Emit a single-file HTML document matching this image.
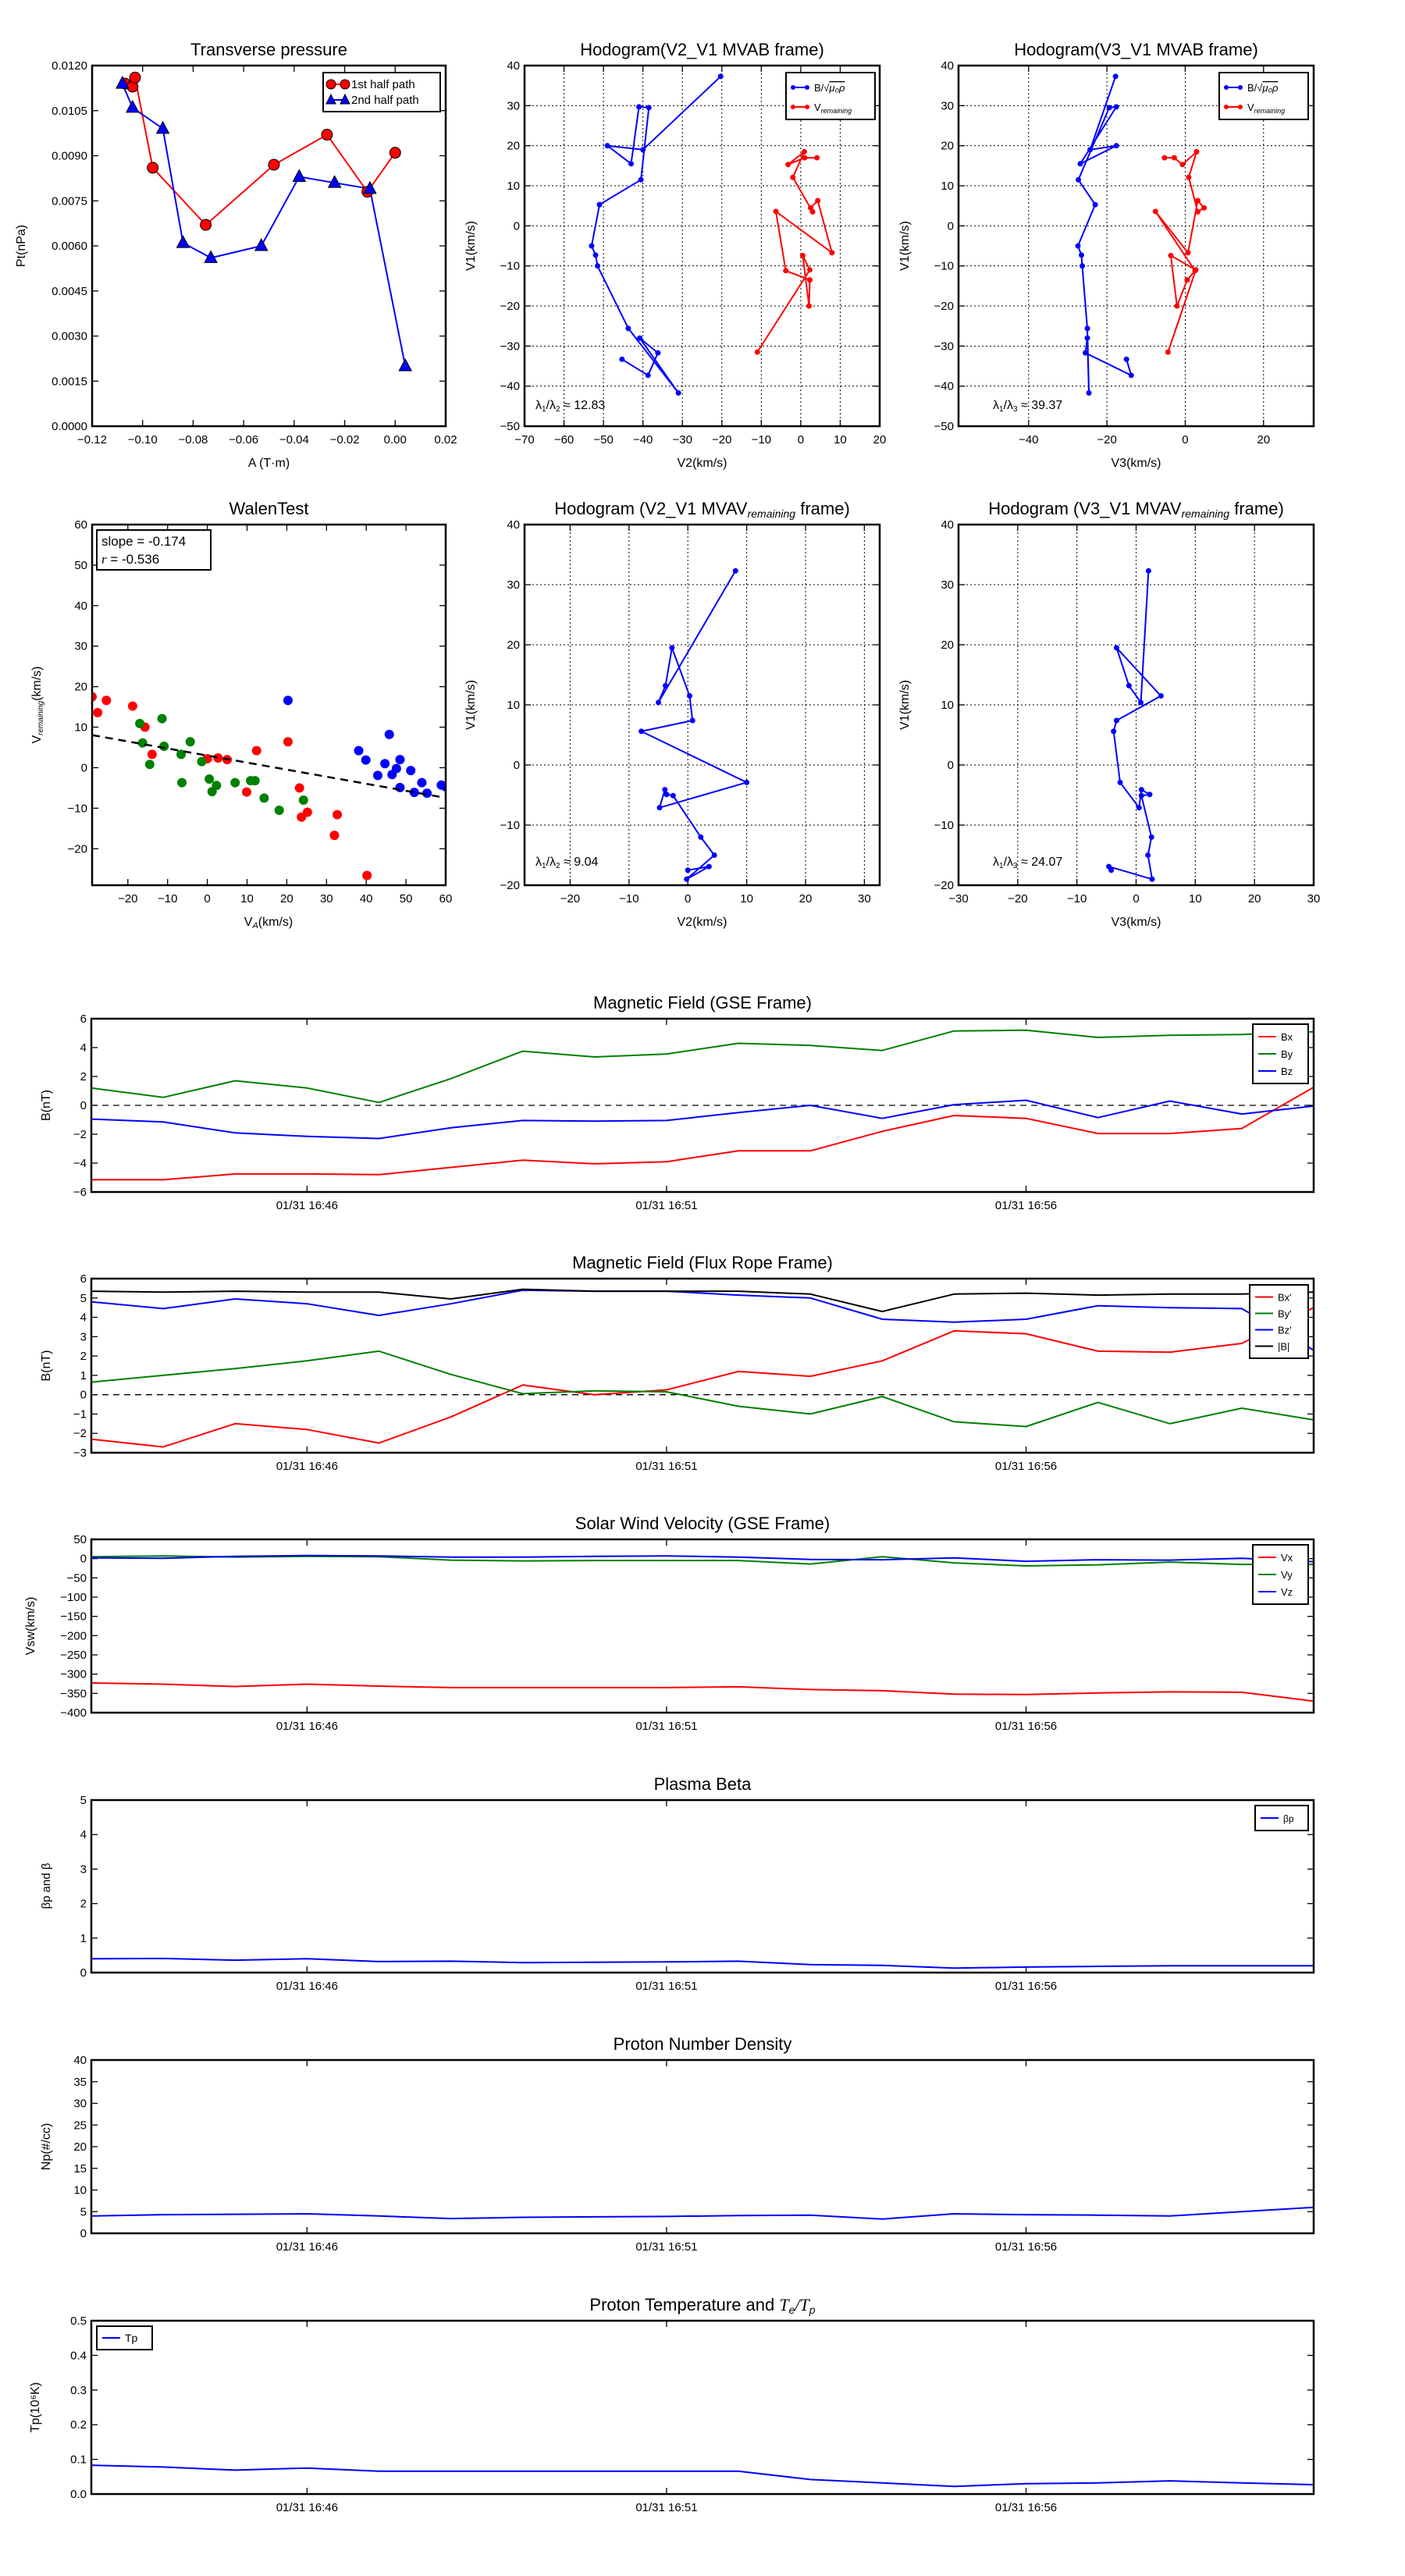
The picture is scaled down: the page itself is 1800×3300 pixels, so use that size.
<!DOCTYPE html>
<html><head><meta charset="utf-8"><title>Flux rope analysis</title>
<style>
html,body{margin:0;padding:0;background:#fff;}
svg{display:block;font-family:"Liberation Sans","DejaVu Sans",sans-serif;}
</style></head>
<body>
<svg id="fig" width="1800" height="3300" viewBox="0 0 1800 3300" xmlns="http://www.w3.org/2000/svg">
<rect x="0" y="0" width="1800" height="3300" fill="#fff"/>
</svg>
<script>
// ---------- data ----------
const tpRedA = [-0.107,-0.104,-0.103,-0.096,-0.075,-0.048,-0.027,-0.011,0.0];
const tpRedP = [0.0114,0.0113,0.0116,0.0086,0.0067,0.0087,0.0097,0.0078,0.0091];
const tpBlueA = [-0.108,-0.104,-0.092,-0.084,-0.073,-0.053,-0.038,-0.024,-0.010,0.004];
const tpBlueP = [0.0114,0.0106,0.0099,0.0061,0.0056,0.0060,0.0083,0.0081,0.0079,0.0020];

const h1BV1 = [37.3,19,20,15.5,29.7,29.5,11.5,5.3,-5,-7.3,-10,-25.6,-41.7,-28,-31.7,-37.3,-33.3];
const h1BV2 = [-20.3,-40,-49,-43,-41,-38.5,-40.5,-51,-53,-52,-51.5,-43.7,-31,-40.8,-36.2,-38.7,-45.3];
const h1BV3 = [-17.8,-24.3,-17.6,-26.8,-17.6,-19.4,-27.3,-23,-27.4,-26.5,-26.3,-25,-24.6,-25,-25.5,-13.8,-15];
const h1RV1 = [-31.5,-11,-7.4,-20,-13.5,-11.2,3.6,-6.7,6.3,4.5,3.5,12.1,18.5,15.3,17,17];
const h1RV2 = [-11,2.3,0.5,2.1,2.3,-3.8,-6.3,7.9,4.3,2.5,3,-2,0.9,-3.2,1,4.1];
const h1RV3 = [-4.4,2.7,-3.7,-2.1,0.5,2.5,-7.6,0.7,3.2,4.8,3.2,0.9,2.9,-0.7,-2.8,-5.3];

const walRedX = [-29,-27.6,-25.4,-18.8,-15.7,-13.9,0,2.7,5,12.4,20.3,9.9,23.2,23.7,25.2,32.7,32,40.2];
const walRedY = [17.5,13.6,16.6,15.2,10,3.3,2.2,2.4,2,4.2,6.4,-6,-5,-12.2,-11,-11.6,-16.7,-26.6];
const walGreenX = [-17,-11.4,-16.3,-10.9,-6.6,-4.3,-14.5,-6.4,-1.4,0.5,1.2,2.3,7,10.9,12,14.3,18.1,24.2];
const walGreenY = [10.9,12.1,6.1,5.3,3.3,6.4,0.8,-3.7,1.5,-2.8,-5.9,-4.4,-3.7,-3.2,-3.2,-7.5,-10.5,-8];
const walBlueX = [20.3,45.8,38.1,39.9,44.7,48.5,51.2,47.6,42.9,46.5,54,48.5,52.1,55.3,58.9,60];
const walBlueY = [16.6,8.2,4.2,1.9,1,2,-0.7,-0.2,-1.9,-1.7,-3.7,-4.9,-6.1,-6.3,-4.3,-4.7];
const walSlope = -0.174;
const walIntercept = 3.0;

const h2V1 = [32.3,10.4,13.2,19.5,11.5,7.4,5.6,-2.9,-7.1,-4.1,-4.9,-5.1,-12,-15,-19,-16.9,-17.5];
const h2V2 = [8.1,-5,-3.8,-2.7,0.3,0.8,-7.9,10,-4.8,-3.9,-3.6,-2.5,2.2,4.5,-0.2,3.6,0];
const h2V3 = [2.1,0.8,-1.2,-3.3,4.2,-3.3,-3.8,-2.7,0.5,0.9,2.3,0.9,2.6,2,2.7,-4.6,-4.2];

const timeIdx = [0,1,2,3,4,5,6,7,8,9,10,11,12,13,14,15,16,17];
const timeTickIdx = [3,8,13];
const timeTickLabels = ["01/31 16:46","01/31 16:51","01/31 16:56"];
const Bx = [-5.15,-5.15,-4.75,-4.75,-4.8,-4.3,-3.8,-4.05,-3.9,-3.15,-3.15,-1.8,-0.7,-0.9,-1.95,-1.95,-1.6,1.25];
const By = [1.2,0.55,1.7,1.2,0.2,1.85,3.75,3.35,3.55,4.3,4.15,3.8,5.15,5.2,4.7,4.85,4.9,5.1];
const Bz = [-0.95,-1.15,-1.9,-2.15,-2.3,-1.55,-1.05,-1.1,-1.05,-0.5,0,-0.9,0.05,0.35,-0.85,0.3,-0.6,-0.05];
const BxP = [-2.3,-2.7,-1.5,-1.8,-2.5,-1.15,0.5,0,0.25,1.2,0.95,1.75,3.3,3.15,2.25,2.2,2.65,4.5];
const ByP = [0.65,1.0,1.35,1.75,2.25,1.05,0.05,0.2,0.15,-0.6,-1.0,-0.1,-1.4,-1.65,-0.4,-1.5,-0.7,-1.3];
const BzP = [4.8,4.45,4.95,4.7,4.1,4.7,5.4,5.35,5.35,5.15,5.0,3.9,3.75,3.9,4.6,4.5,4.45,2.3];
const Bmag = [5.35,5.3,5.35,5.3,5.3,4.95,5.45,5.35,5.35,5.35,5.2,4.3,5.2,5.25,5.15,5.2,5.2,5.3];
const Vx = [-323,-326,-332,-326,-331,-335,-335,-335,-335,-333,-340,-343,-352,-353,-349,-346,-347,-370];
const Vy = [5,7,4,6,5,-4,-6,-5,-5,-5,-14,5,-11,-19,-16,-9,-15,-15];
const Vz = [2,1,6,8,7,4,4,6,7,4,-2,-3,2,-7,-3,-4,1,-8];
const betaP = [0.4,0.41,0.36,0.4,0.32,0.33,0.29,0.3,0.31,0.33,0.23,0.21,0.13,0.16,0.18,0.2,0.2,0.2];
const Np = [4.0,4.3,4.4,4.5,4.0,3.4,3.7,3.8,3.9,4.1,4.2,3.3,4.5,4.3,4.2,4.0,5.0,6.0];
const Tp = [0.083,0.078,0.069,0.075,0.066,0.066,0.066,0.066,0.066,0.066,0.042,0.032,0.022,0.03,0.032,0.038,0.032,0.027];

// ---------- helpers ----------
const NS = "http://www.w3.org/2000/svg";
const svg = document.getElementById('fig');
let clipN = 0;
function mk(parent, tag, attrs, name, inter) {
  const el = document.createElementNS(NS, tag);
  for (const k in attrs) el.setAttribute(k, attrs[k]);
  
  
  parent.appendChild(el);
  return el;
}
function txt(parent, x, y, s, size, anchor, name, extra) {
  const t = mk(parent, 'text', Object.assign({x:x, y:y, 'font-size':size, 'text-anchor':anchor||'middle', fill:'#000'}, extra||{}), name, false);
  t.textContent = s;
  return t;
}
function fmtNum(v, d) { const s = Math.abs(v).toFixed(d); return (v < -1e-12 ? '\u2212' : '') + s; }

function axes(o) {
  const g = mk(svg, 'g', {}, o.name, false);
  const sx = v => o.x0 + (v - o.xmin) / (o.xmax - o.xmin) * (o.x1 - o.x0);
  const sy = v => o.y1 - (v - o.ymin) / (o.ymax - o.ymin) * (o.y1 - o.y0);
  const id = 'clip' + (clipN++);
  const cp = mk(g, 'clipPath', {id:id}, 'plot-clip', false);
  mk(cp, 'rect', {x:o.x0, y:o.y0, width:o.x1-o.x0, height:o.y1-o.y0}, 'clip-rect', false);
  const grid = mk(g, 'g', {}, 'grid', false);
  const xt = mk(g, 'g', {}, 'x-axis', false);
  o.xticks.forEach((v, i) => {
    const x = sx(v);
    if (o.grid) mk(grid, 'line', {x1:x, x2:x, y1:o.y0, y2:o.y1, stroke:'#000', 'stroke-width':1, 'stroke-dasharray':'2,3'}, 'x-grid-line', false);
    mk(xt, 'line', {x1:x, x2:x, y1:o.y1, y2:o.y1-8, stroke:'#000', 'stroke-width':1.3}, 'x-tick', false);
    mk(xt, 'line', {x1:x, x2:x, y1:o.y0, y2:o.y0+8, stroke:'#000', 'stroke-width':1.3}, 'x-tick', false);
    const lab = o.xlabels ? o.xlabels[i] : o.xfmt(v);
    txt(xt, x, o.y1 + 22, lab, 15, 'middle', 'x-tick-label');
  });
  const yt = mk(g, 'g', {}, 'y-axis', false);
  o.yticks.forEach(v => {
    const y = sy(v);
    if (o.grid) mk(grid, 'line', {x1:o.x0, x2:o.x1, y1:y, y2:y, stroke:'#000', 'stroke-width':1, 'stroke-dasharray':'2,3'}, 'y-grid-line', false);
    mk(yt, 'line', {x1:o.x0, x2:o.x0+8, y1:y, y2:y, stroke:'#000', 'stroke-width':1.3}, 'y-tick', false);
    mk(yt, 'line', {x1:o.x1, x2:o.x1-8, y1:y, y2:y, stroke:'#000', 'stroke-width':1.3}, 'y-tick', false);
    txt(yt, o.x0 - 6, y + 5, o.yfmt(v), 15, 'end', 'y-tick-label');
  });
  const data = mk(g, 'g', {'clip-path':'url(#'+id+')'}, 'plot-area', false);
  mk(g, 'rect', {x:o.x0, y:o.y0, width:o.x1-o.x0, height:o.y1-o.y0, fill:'none', stroke:'#000', 'stroke-width':2.5}, 'axes-frame', false);
  if (o.title) {
    const t = txt(g, (o.x0+o.x1)/2, o.y0 - 13, '', 22, 'middle', 'chart-title');
    o.title.forEach(p => {
      const ts = document.createElementNS(NS, 'tspan');
      ts.textContent = p[0];
      if (p[1] === 'sub') { ts.setAttribute('font-size', 14); ts.setAttribute('font-style','italic'); ts.setAttribute('baseline-shift','-25%'); }
      if (p[1] === 'it') { ts.setAttribute('font-style','italic'); ts.setAttribute('font-family','"Liberation Serif",serif'); }
      t.appendChild(ts);
    });
  }
  if (o.xlabel) txt(g, (o.x0+o.x1)/2, o.y1 + 52, o.xlabel, 16, 'middle', 'x-axis-title');
  if (o.ylabel) {
    const yl = txt(g, 0, 0, o.ylabel, 16, 'middle', 'y-axis-title', {transform:'translate('+o.ylx+','+((o.y0+o.y1)/2)+') rotate(-90)'});
  }
  return {g:g, data:data, sx:sx, sy:sy};
}
function line(ax, xs, ys, color, name, w, dash) {
  const pts = xs.map((x,i) => ax.sx(x).toFixed(1) + ',' + ax.sy(ys[i]).toFixed(1)).join(' ');
  const a = {points:pts, fill:'none', stroke:color, 'stroke-width':w||2, 'stroke-linejoin':'round'};
  if (dash) a['stroke-dasharray'] = dash;
  return mk(ax.data, 'polyline', a, name, false);
}
function dots(ax, xs, ys, color, r, name, outline) {
  xs.forEach((x,i) => {
    mk(ax.data, 'circle', {cx:ax.sx(x), cy:ax.sy(ys[i]), r:r, fill:color, stroke: outline ? '#000' : 'none', 'stroke-width':1}, name, false);
  });
}
function tris(ax, xs, ys, color, name) {
  xs.forEach((x,i) => {
    const cx = ax.sx(x), cy = ax.sy(ys[i]);
    mk(ax.data, 'polygon', {points:(cx)+','+(cy-9)+' '+(cx-8)+','+(cy+6)+' '+(cx+8)+','+(cy+6), fill:color, stroke:'#000', 'stroke-width':1}, name, false);
  });
}
function legend(parent, x, y, w, entries, rowH, fontSize, name) {
  const g = mk(parent, 'g', {}, name, false);
  mk(g, 'rect', {x:x, y:y, width:w, height:entries.length*rowH + 10, fill:'#fff', stroke:'#000', 'stroke-width':2}, 'legend-box', false);
  entries.forEach((e, i) => {
    const cy = y + 5 + rowH*(i+0.5);
    mk(g, 'line', {x1:x+7, x2:x+30, y1:cy, y2:cy, stroke:e.c, 'stroke-width':2}, 'legend-line', false);
    if (e.m === 'o') { mk(g,'circle',{cx:x+10,cy:cy,r:6,fill:e.c,stroke:'#000'},'legend-marker',false); mk(g,'circle',{cx:x+28,cy:cy,r:6,fill:e.c,stroke:'#000'},'legend-marker',false); }
    if (e.m === '^') { [x+10,x+28].forEach(cx => mk(g,'polygon',{points:cx+','+(cy-7)+' '+(cx-6)+','+(cy+5)+' '+(cx+6)+','+(cy+5),fill:e.c,stroke:'#000'},'legend-marker',false)); }
    if (e.m === '.') { [x+10,x+28].forEach(cx => mk(g,'circle',{cx:cx,cy:cy,r:3,fill:e.c},'legend-marker',false)); }
    txt(g, x+36, cy+5, e.t, fontSize, 'start', 'legend-label');
  });
  return g;
}
const rng = (a, b, s) => { const r=[]; for (let v=a; v<=b+1e-9; v+=s) r.push(+v.toFixed(6)); return r; };
const intF = v => fmtNum(v, 0);

// ---------- Transverse pressure ----------
(function(){
  const ax = axes({name:'transverse-pressure-chart', x0:118,x1:571,y0:84,y1:546, xmin:-0.12,xmax:0.02,ymin:0,ymax:0.012,
    xticks:rng(-0.12,0.02,0.02), yticks:rng(0,0.012,0.0015), xfmt:v=>fmtNum(v,2), yfmt:v=>v.toFixed(4),
    title:[['Transverse pressure']], xlabel:'A (T\u00b7m)', ylabel:'Pt(nPa)', ylx:32});
  line(ax, tpRedA, tpRedP, '#f00', 'first-half-line', 2);
  line(ax, tpBlueA, tpBlueP, '#00f', 'second-half-line', 2);
  dots(ax, tpRedA, tpRedP, '#f00', 7, 'first-half-point', true);
  tris(ax, tpBlueA, tpBlueP, '#00f', 'second-half-point');
  legend(ax.g, 414, 93, 150, [{t:'1st half path',c:'#f00',m:'o'},{t:'2nd half path',c:'#00f',m:'^'}], 20, 15, 'legend');
})();

// ---------- Hodogram MVAB ----------
function hodoLegend(g, x) {
  const lg = mk(g,'g',{},'legend',false);
  mk(lg,'rect',{x:x,y:93,width:114,height:60,fill:'#fff',stroke:'#000','stroke-width':2},'legend-box',false);
  [[112,'#00f'],[137,'#f00']].forEach(r => {
    mk(lg,'line',{x1:x+6,x2:x+30,y1:r[0],y2:r[0],stroke:r[1],'stroke-width':2},'legend-line',false);
    mk(lg,'circle',{cx:x+9,cy:r[0],r:3,fill:r[1]},'legend-marker',false);
    mk(lg,'circle',{cx:x+27,cy:r[0],r:3,fill:r[1]},'legend-marker',false);
  });
  const t1 = txt(lg, x+36, 117, 'B/\u221a', 13, 'start', 'legend-label');
  const s1 = document.createElementNS(NS,'tspan'); s1.textContent='\u03bc\u2080\u03c1'; s1.setAttribute('font-style','italic'); s1.setAttribute('text-decoration','overline'); t1.appendChild(s1);
  const t2 = txt(lg, x+36, 142, 'V', 13, 'start', 'legend-label');
  const s2 = document.createElementNS(NS,'tspan'); s2.textContent='remaining'; s2.setAttribute('font-size',9); s2.setAttribute('font-style','italic'); s2.setAttribute('baseline-shift','-30%'); t2.appendChild(s2);
}
function lambdaText(g, x, y, sub, val) {
  const t = txt(g, x, y, '\u03bb', 16, 'start', 'eigenvalue-ratio-label');
  const a = document.createElementNS(NS,'tspan'); a.textContent='1'; a.setAttribute('font-size',10); a.setAttribute('baseline-shift','-30%'); t.appendChild(a);
  const b = document.createElementNS(NS,'tspan'); b.textContent='/\u03bb'; t.appendChild(b);
  const c = document.createElementNS(NS,'tspan'); c.textContent=sub; c.setAttribute('font-size',10); c.setAttribute('baseline-shift','-30%'); t.appendChild(c);
  const d = document.createElementNS(NS,'tspan'); d.textContent=' \u2248 ' + val; t.appendChild(d);
}
(function(){
  const ax = axes({name:'hodogram-v2-v1-mvab-chart', x0:672,x1:1127,y0:84,y1:546, xmin:-70,xmax:20,ymin:-50,ymax:40,
    xticks:rng(-70,20,10), yticks:rng(-50,40,10), xfmt:intF, yfmt:intF, grid:true,
    title:[['Hodogram(V2_V1 MVAB frame)']], xlabel:'V2(km/s)', ylabel:'V1(km/s)', ylx:608});
  line(ax, h1BV2, h1BV1, '#00f', 'b-field-hodogram-line', 2);
  dots(ax, h1BV2, h1BV1, '#00f', 3.5, 'b-field-hodogram-point');
  line(ax, h1RV2, h1RV1, '#f00', 'velocity-hodogram-line', 2);
  dots(ax, h1RV2, h1RV1, '#f00', 3.5, 'velocity-hodogram-point');
  hodoLegend(ax.g, 1007);
  lambdaText(ax.g, 686, 524, '2', '12.83');
})();
(function(){
  const ax = axes({name:'hodogram-v3-v1-mvab-chart', x0:1228,x1:1683,y0:84,y1:546, xmin:-57.9,xmax:32.8,ymin:-50,ymax:40,
    xticks:[-40,-20,0,20], yticks:rng(-50,40,10), xfmt:intF, yfmt:intF, grid:true,
    title:[['Hodogram(V3_V1 MVAB frame)']], xlabel:'V3(km/s)', ylabel:'V1(km/s)', ylx:1164});
  line(ax, h1BV3, h1BV1, '#00f', 'b-field-hodogram-line', 2);
  dots(ax, h1BV3, h1BV1, '#00f', 3.5, 'b-field-hodogram-point');
  line(ax, h1RV3, h1RV1, '#f00', 'velocity-hodogram-line', 2);
  dots(ax, h1RV3, h1RV1, '#f00', 3.5, 'velocity-hodogram-point');
  hodoLegend(ax.g, 1562);
  lambdaText(ax.g, 1272, 524, '3', '39.37');
})();

// ---------- Walen test ----------
(function(){
  const ax = axes({name:'walen-test-chart', x0:118,x1:571,y0:672,y1:1134, xmin:-29,xmax:60,ymin:-29,ymax:60,
    xticks:rng(-20,60,10), yticks:rng(-20,60,10), xfmt:intF, yfmt:intF,
    title:[['WalenTest']], xlabel:'', ylabel:'', ylx:52});
  const xl = txt(ax.g, 344, 1186, 'V', 16, 'middle', 'x-axis-title');
  const xs = document.createElementNS(NS,'tspan'); xs.textContent='A'; xs.setAttribute('font-size',11); xs.setAttribute('font-style','italic'); xs.setAttribute('baseline-shift','-30%'); xl.appendChild(xs);
  const xs2 = document.createElementNS(NS,'tspan'); xs2.textContent='(km/s)'; xl.appendChild(xs2);
  const yl = txt(ax.g, 0, 0, 'V', 16, 'middle', 'y-axis-title', {transform:'translate(52,903) rotate(-90)'});
  const ys = document.createElementNS(NS,'tspan'); ys.textContent='remaining'; ys.setAttribute('font-size',10); ys.setAttribute('font-style','italic'); ys.setAttribute('baseline-shift','-30%'); yl.appendChild(ys);
  const ys2 = document.createElementNS(NS,'tspan'); ys2.textContent='(km/s)'; yl.appendChild(ys2);
  dots(ax, walRedX, walRedY, '#f00', 6, 'walen-point-red');
  dots(ax, walGreenX, walGreenY, '#008000', 6, 'walen-point-green');
  dots(ax, walBlueX, walBlueY, '#00f', 6, 'walen-point-blue');
  const fx = [-29, 60];
  line(ax, fx, fx.map(x => walSlope*x + walIntercept), '#000', 'regression-line', 2.5, '10,7');
  mk(ax.g,'rect',{x:124,y:679,width:146,height:51,fill:'#fff',stroke:'#000','stroke-width':2},'stats-box',false);
  txt(ax.g, 130, 699, 'slope = ' + fmtNum(walSlope,3).replace('\u2212','-'), 17, 'start', 'slope-label');
  const rt = txt(ax.g, 130, 722, '', 17, 'start', 'correlation-label');
  const r1 = document.createElementNS(NS,'tspan'); r1.textContent='r'; r1.setAttribute('font-style','italic'); r1.setAttribute('font-family','"Liberation Serif",serif'); rt.appendChild(r1);
  const r2 = document.createElementNS(NS,'tspan'); r2.textContent=' = -0.536'; rt.appendChild(r2);
})();

// ---------- Hodogram MVAV ----------
(function(){
  const ax = axes({name:'hodogram-v2-v1-mvav-chart', x0:672,x1:1127,y0:672,y1:1134, xmin:-27.75,xmax:32.6,ymin:-20,ymax:40,
    xticks:rng(-20,30,10), yticks:rng(-20,40,10), xfmt:intF, yfmt:intF, grid:true,
    title:[['Hodogram (V2_V1 MVAV'],['remaining','sub'],[' frame)']], xlabel:'V2(km/s)', ylabel:'V1(km/s)', ylx:608});
  line(ax, h2V2, h2V1, '#00f', 'hodogram-line', 2);
  dots(ax, h2V2, h2V1, '#00f', 3.5, 'hodogram-point');
  lambdaText(ax.g, 686, 1109, '2', '9.04');
})();
(function(){
  const ax = axes({name:'hodogram-v3-v1-mvav-chart', x0:1228,x1:1683,y0:672,y1:1134, xmin:-30,xmax:30,ymin:-20,ymax:40,
    xticks:rng(-30,30,10), yticks:rng(-20,40,10), xfmt:intF, yfmt:intF, grid:true,
    title:[['Hodogram (V3_V1 MVAV'],['remaining','sub'],[' frame)']], xlabel:'V3(km/s)', ylabel:'V1(km/s)', ylx:1164});
  line(ax, h2V3, h2V1, '#00f', 'hodogram-line', 2);
  dots(ax, h2V3, h2V1, '#00f', 3.5, 'hodogram-point');
  lambdaText(ax.g, 1272, 1109, '3', '24.07');
})();

// ---------- time series ----------
function ts(o) {
  return axes(Object.assign({x0:117,x1:1683,xmin:0,xmax:17,xticks:timeTickIdx,xlabels:timeTickLabels,xfmt:intF}, o));
}
(function(){
  const ax = ts({name:'magnetic-field-gse-chart', y0:1305,y1:1527, ymin:-6,ymax:6, yticks:rng(-6,6,2), yfmt:intF,
    title:[['Magnetic Field (GSE Frame)']], ylabel:'B(nT)', ylx:64});
  line(ax, [0,17], [0,0], '#000', 'zero-line', 1.3, '8,6');
  line(ax, timeIdx, Bx, '#f00', 'bx-line'); line(ax, timeIdx, By, '#008000', 'by-line'); line(ax, timeIdx, Bz, '#00f', 'bz-line');
  legend(ax.g, 1605, 1312, 71, [{t:'Bx',c:'#f00'},{t:'By',c:'#008000'},{t:'Bz',c:'#00f'}], 22, 13, 'legend');
})();
(function(){
  const ax = ts({name:'magnetic-field-flux-rope-chart', y0:1638,y1:1861, ymin:-3,ymax:6, yticks:rng(-3,6,1), yfmt:intF,
    title:[['Magnetic Field (Flux Rope Frame)']], ylabel:'B(nT)', ylx:64});
  line(ax, [0,17], [0,0], '#000', 'zero-line', 1.3, '8,6');
  line(ax, timeIdx, BxP, '#f00', 'bx-prime-line'); line(ax, timeIdx, ByP, '#008000', 'by-prime-line');
  line(ax, timeIdx, BzP, '#00f', 'bz-prime-line'); line(ax, timeIdx, Bmag, '#000', 'b-magnitude-line');
  legend(ax.g, 1601, 1646, 75, [{t:"Bx'",c:'#f00'},{t:"By'",c:'#008000'},{t:"Bz'",c:'#00f'},{t:'|B|',c:'#000'}], 21, 13, 'legend');
})();
(function(){
  const ax = ts({name:'solar-wind-velocity-chart', y0:1972,y1:2194, ymin:-400,ymax:50, yticks:rng(-400,50,50), yfmt:intF,
    title:[['Solar Wind Velocity (GSE Frame)']], ylabel:'Vsw(km/s)', ylx:44});
  line(ax, timeIdx, Vx, '#f00', 'vx-line'); line(ax, timeIdx, Vy, '#008000', 'vy-line'); line(ax, timeIdx, Vz, '#00f', 'vz-line');
  legend(ax.g, 1605, 1979, 71, [{t:'Vx',c:'#f00'},{t:'Vy',c:'#008000'},{t:'Vz',c:'#00f'}], 22, 13, 'legend');
})();
(function(){
  const ax = ts({name:'plasma-beta-chart', y0:2306,y1:2527, ymin:0,ymax:5, yticks:rng(0,5,1), yfmt:intF,
    title:[['Plasma Beta']], ylabel:'', ylx:64});
  const yl = txt(ax.g, 0, 0, '\u03b2p and \u03b2', 15, 'middle', 'y-axis-title', {transform:'translate(64,2416) rotate(-90)'});
  line(ax, timeIdx, betaP, '#00f', 'beta-p-line');
  legend(ax.g, 1608, 2313, 68, [{t:'\u03b2p',c:'#00f'}], 22, 12, 'legend');
})();
(function(){
  const ax = ts({name:'proton-density-chart', y0:2639,y1:2861, ymin:0,ymax:40, yticks:rng(0,40,5), yfmt:intF,
    title:[['Proton Number Density']], ylabel:'Np(#/cc)', ylx:64});
  line(ax, timeIdx, Np, '#00f', 'np-line');
})();
(function(){
  const ax = ts({name:'proton-temperature-chart', y0:2973,y1:3195, ymin:0,ymax:0.5, yticks:rng(0,0.5,0.1), yfmt:v=>v.toFixed(1),
    title:[['Proton Temperature and '],['T','it'],['e','sub'],['/','it'],['T','it'],['p','sub']], ylabel:'Tp(10\u2076K)', ylx:50});
  line(ax, timeIdx, Tp, '#00f', 'tp-line');
  legend(ax.g, 124, 2980, 71, [{t:'Tp',c:'#00f'}], 20, 14, 'legend');
})();
</script>
</body></html>
